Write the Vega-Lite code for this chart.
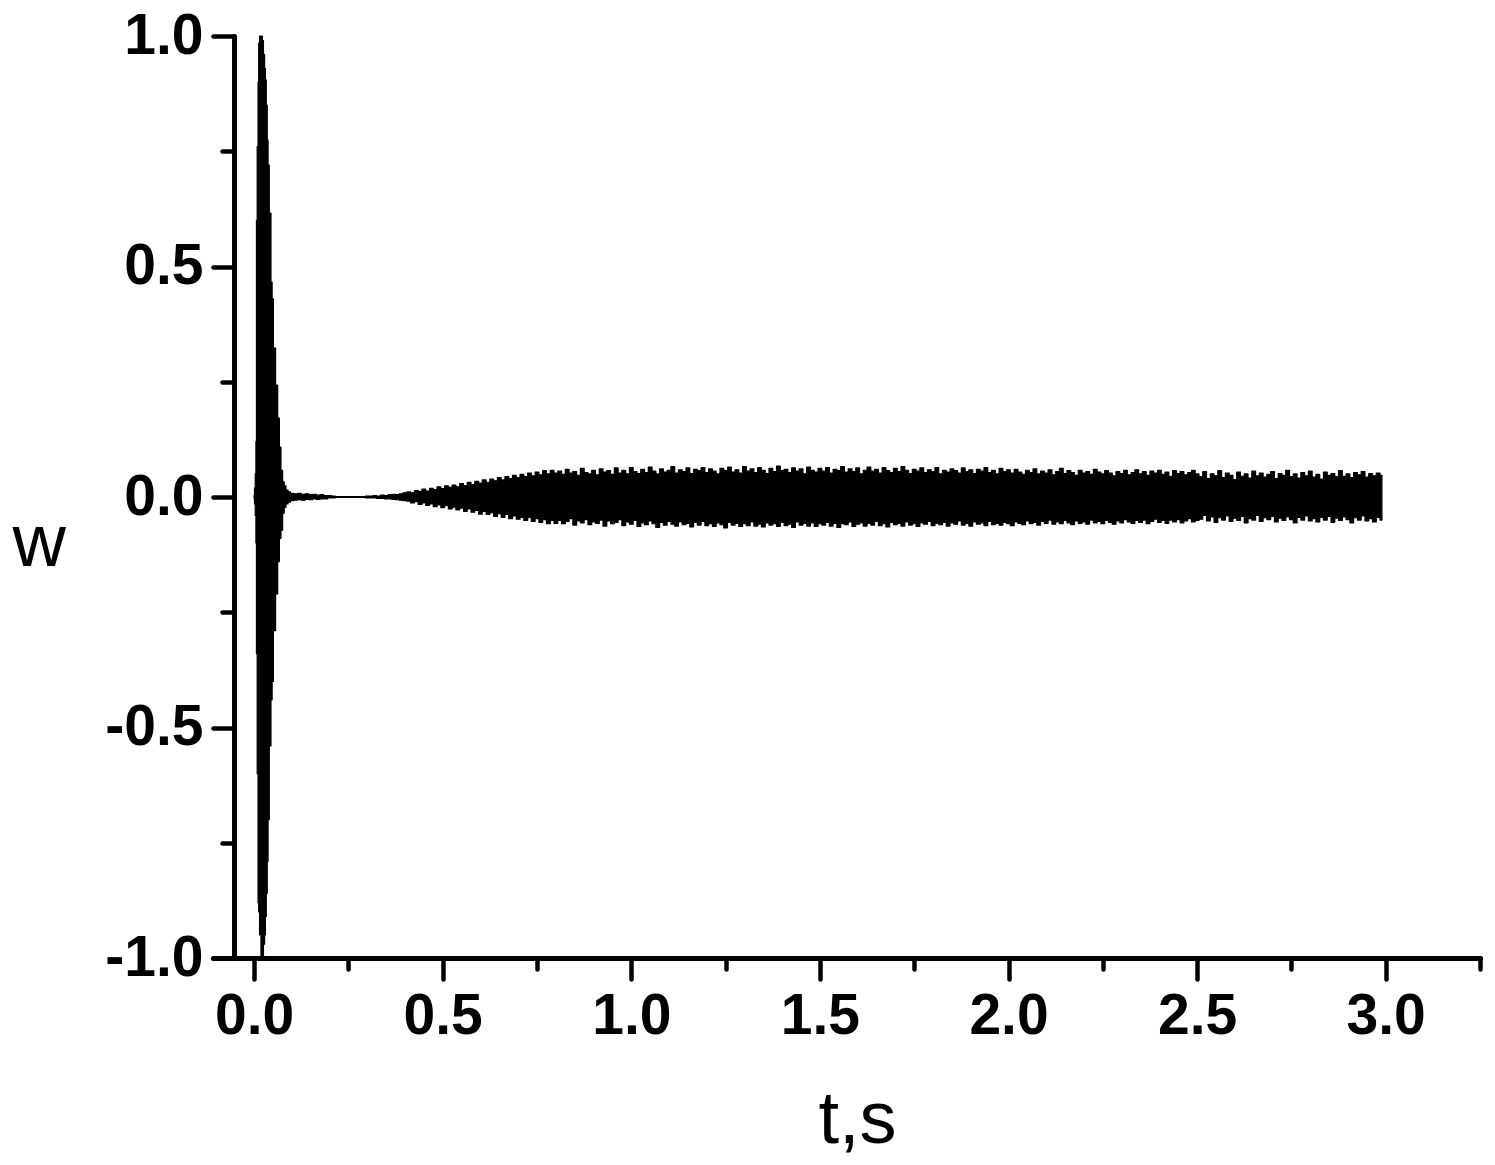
{
  "$schema": "https://vega.github.io/schema/vega-lite/v6.json",
  "width": 1267,
  "height": 922,
  "autosize": {"type": "none"},
  "padding": {"left": 213, "top": 36, "right": 15, "bottom": 207},
  "background": "white",
  "config": {
    "view": {"stroke": null},
    "axis": {
      "grid": false,
      "domainColor": "black",
      "tickColor": "black",
      "labelFont": "Liberation Sans",
      "labelFontWeight": "bold",
      "labelFontSize": 57,
      "labelColor": "black",
      "titleFont": "Liberation Sans",
      "titleFontWeight": "normal",
      "titleFontSize": 74,
      "titleColor": "black"
    }
  },
  "data": {
    "values": [
      {"t": 0.000, "hi": 0.004, "lo": -0.004},
      {"t": 0.002, "hi": 0.02, "lo": -0.015},
      {"t": 0.004, "hi": 0.05, "lo": -0.04},
      {"t": 0.0055, "hi": 0.12, "lo": -0.10},
      {"t": 0.0068, "hi": 0.60, "lo": -0.34},
      {"t": 0.0095, "hi": 0.76, "lo": -0.60},
      {"t": 0.0114, "hi": 0.90, "lo": -0.88},
      {"t": 0.013, "hi": 0.985, "lo": -0.90},
      {"t": 0.0159, "hi": 1.0, "lo": -0.95},
      {"t": 0.0205, "hi": 1.0, "lo": -1.0},
      {"t": 0.023, "hi": 0.99, "lo": -1.0},
      {"t": 0.0265, "hi": 0.96, "lo": -0.97},
      {"t": 0.029, "hi": 0.93, "lo": -0.95},
      {"t": 0.031, "hi": 0.905, "lo": -0.91},
      {"t": 0.0336, "hi": 0.85, "lo": -0.86},
      {"t": 0.036, "hi": 0.774, "lo": -0.79},
      {"t": 0.038, "hi": 0.72, "lo": -0.70},
      {"t": 0.0424, "hi": 0.616, "lo": -0.54},
      {"t": 0.047, "hi": 0.466, "lo": -0.44},
      {"t": 0.0485, "hi": 0.43, "lo": -0.40},
      {"t": 0.054, "hi": 0.323, "lo": -0.29},
      {"t": 0.060, "hi": 0.243, "lo": -0.21},
      {"t": 0.065, "hi": 0.171, "lo": -0.14},
      {"t": 0.069, "hi": 0.108, "lo": -0.09},
      {"t": 0.0734, "hi": 0.058, "lo": -0.072},
      {"t": 0.0777, "hi": 0.033, "lo": -0.035},
      {"t": 0.082, "hi": 0.024, "lo": -0.022},
      {"t": 0.087, "hi": 0.015, "lo": -0.015},
      {"t": 0.093, "hi": 0.011, "lo": -0.011},
      {"t": 0.100, "hi": 0.008, "lo": -0.008},
      {"t": 0.11, "hi": 0.007, "lo": -0.007},
      {"t": 0.12, "hi": 0.008, "lo": -0.006},
      {"t": 0.13, "hi": 0.006, "lo": -0.007},
      {"t": 0.14, "hi": 0.007, "lo": -0.005},
      {"t": 0.15, "hi": 0.005, "lo": -0.006},
      {"t": 0.16, "hi": 0.006, "lo": -0.004},
      {"t": 0.17, "hi": 0.004, "lo": -0.005},
      {"t": 0.18, "hi": 0.005, "lo": -0.004},
      {"t": 0.19, "hi": 0.003, "lo": -0.004},
      {"t": 0.20, "hi": 0.003, "lo": -0.002},
      {"t": 0.21, "hi": 0.002, "lo": -0.002},
      {"t": 0.22, "hi": 0.001, "lo": -0.001},
      {"t": 0.23, "hi": 0.001, "lo": -0.001},
      {"t": 0.24, "hi": 0.001, "lo": -0.001},
      {"t": 0.25, "hi": 0.001, "lo": -0.001},
      {"t": 0.26, "hi": 0.001, "lo": -0.001},
      {"t": 0.27, "hi": 0.001, "lo": -0.001},
      {"t": 0.28, "hi": 0.001, "lo": -0.001},
      {"t": 0.29, "hi": 0.001, "lo": -0.001},
      {"t": 0.30, "hi": 0.002, "lo": -0.002},
      {"t": 0.31, "hi": 0.002, "lo": -0.002},
      {"t": 0.32, "hi": 0.003, "lo": -0.002},
      {"t": 0.33, "hi": 0.002, "lo": -0.003},
      {"t": 0.34, "hi": 0.004, "lo": -0.003},
      {"t": 0.35, "hi": 0.003, "lo": -0.004},
      {"t": 0.36, "hi": 0.005, "lo": -0.004},
      {"t": 0.37, "hi": 0.006, "lo": -0.005},
      {"t": 0.38, "hi": 0.005, "lo": -0.006},
      {"t": 0.39, "hi": 0.007, "lo": -0.007},
      {"t": 0.40, "hi": 0.009, "lo": -0.008},
      {"t": 0.41, "hi": 0.011, "lo": -0.009},
      {"t": 0.42, "hi": 0.009, "lo": -0.013},
      {"t": 0.43, "hi": 0.014, "lo": -0.010},
      {"t": 0.44, "hi": 0.012, "lo": -0.016},
      {"t": 0.45, "hi": 0.017, "lo": -0.013},
      {"t": 0.46, "hi": 0.013, "lo": -0.018},
      {"t": 0.47, "hi": 0.019, "lo": -0.015},
      {"t": 0.48, "hi": 0.016, "lo": -0.021},
      {"t": 0.49, "hi": 0.022, "lo": -0.017},
      {"t": 0.50, "hi": 0.018, "lo": -0.023},
      {"t": 0.51, "hi": 0.024, "lo": -0.019},
      {"t": 0.52, "hi": 0.021, "lo": -0.026},
      {"t": 0.53, "hi": 0.026, "lo": -0.022},
      {"t": 0.54, "hi": 0.022, "lo": -0.028},
      {"t": 0.55, "hi": 0.029, "lo": -0.024},
      {"t": 0.56, "hi": 0.025, "lo": -0.031},
      {"t": 0.57, "hi": 0.032, "lo": -0.026},
      {"t": 0.58, "hi": 0.027, "lo": -0.033},
      {"t": 0.59, "hi": 0.034, "lo": -0.029},
      {"t": 0.60, "hi": 0.030, "lo": -0.037},
      {"t": 0.61, "hi": 0.037, "lo": -0.031},
      {"t": 0.62, "hi": 0.032, "lo": -0.038},
      {"t": 0.63, "hi": 0.039, "lo": -0.034},
      {"t": 0.64, "hi": 0.035, "lo": -0.042},
      {"t": 0.65, "hi": 0.042, "lo": -0.036},
      {"t": 0.66, "hi": 0.037, "lo": -0.044},
      {"t": 0.67, "hi": 0.044, "lo": -0.038},
      {"t": 0.68, "hi": 0.040, "lo": -0.047},
      {"t": 0.69, "hi": 0.047, "lo": -0.041},
      {"t": 0.70, "hi": 0.042, "lo": -0.048},
      {"t": 0.71, "hi": 0.049, "lo": -0.044},
      {"t": 0.72, "hi": 0.044, "lo": -0.051},
      {"t": 0.73, "hi": 0.052, "lo": -0.045},
      {"t": 0.74, "hi": 0.046, "lo": -0.053},
      {"t": 0.75, "hi": 0.054, "lo": -0.047},
      {"t": 0.76, "hi": 0.048, "lo": -0.055},
      {"t": 0.77, "hi": 0.057, "lo": -0.049},
      {"t": 0.78, "hi": 0.050, "lo": -0.058},
      {"t": 0.79, "hi": 0.058, "lo": -0.051},
      {"t": 0.80, "hi": 0.052, "lo": -0.057},
      {"t": 0.81, "hi": 0.056, "lo": -0.051},
      {"t": 0.82, "hi": 0.049, "lo": -0.058},
      {"t": 0.83, "hi": 0.060, "lo": -0.053},
      {"t": 0.84, "hi": 0.052, "lo": -0.047},
      {"t": 0.85, "hi": 0.055, "lo": -0.061},
      {"t": 0.86, "hi": 0.047, "lo": -0.052},
      {"t": 0.87, "hi": 0.062, "lo": -0.056},
      {"t": 0.88, "hi": 0.053, "lo": -0.049},
      {"t": 0.89, "hi": 0.050, "lo": -0.060},
      {"t": 0.90, "hi": 0.058, "lo": -0.054},
      {"t": 0.91, "hi": 0.048, "lo": -0.057},
      {"t": 0.92, "hi": 0.061, "lo": -0.050},
      {"t": 0.93, "hi": 0.054, "lo": -0.063},
      {"t": 0.94, "hi": 0.057, "lo": -0.052},
      {"t": 0.95, "hi": 0.049, "lo": -0.058},
      {"t": 0.96, "hi": 0.063, "lo": -0.055},
      {"t": 0.97, "hi": 0.052, "lo": -0.049},
      {"t": 0.98, "hi": 0.058, "lo": -0.062},
      {"t": 0.99, "hi": 0.050, "lo": -0.054},
      {"t": 1.00, "hi": 0.064, "lo": -0.059},
      {"t": 1.01, "hi": 0.055, "lo": -0.051},
      {"t": 1.02, "hi": 0.051, "lo": -0.064},
      {"t": 1.03, "hi": 0.060, "lo": -0.056},
      {"t": 1.04, "hi": 0.053, "lo": -0.060},
      {"t": 1.05, "hi": 0.065, "lo": -0.052},
      {"t": 1.06, "hi": 0.056, "lo": -0.058},
      {"t": 1.07, "hi": 0.050, "lo": -0.066},
      {"t": 1.08, "hi": 0.061, "lo": -0.055},
      {"t": 1.09, "hi": 0.054, "lo": -0.061},
      {"t": 1.10, "hi": 0.058, "lo": -0.053},
      {"t": 1.11, "hi": 0.066, "lo": -0.059},
      {"t": 1.12, "hi": 0.052, "lo": -0.063},
      {"t": 1.13, "hi": 0.059, "lo": -0.054},
      {"t": 1.14, "hi": 0.055, "lo": -0.060},
      {"t": 1.15, "hi": 0.063, "lo": -0.057},
      {"t": 1.16, "hi": 0.051, "lo": -0.065},
      {"t": 1.17, "hi": 0.060, "lo": -0.055},
      {"t": 1.18, "hi": 0.057, "lo": -0.061},
      {"t": 1.19, "hi": 0.064, "lo": -0.053},
      {"t": 1.20, "hi": 0.053, "lo": -0.062},
      {"t": 1.21, "hi": 0.061, "lo": -0.058},
      {"t": 1.22, "hi": 0.056, "lo": -0.064},
      {"t": 1.23, "hi": 0.050, "lo": -0.056},
      {"t": 1.24, "hi": 0.062, "lo": -0.060},
      {"t": 1.25, "hi": 0.057, "lo": -0.067},
      {"t": 1.26, "hi": 0.065, "lo": -0.055},
      {"t": 1.27, "hi": 0.054, "lo": -0.061},
      {"t": 1.28, "hi": 0.059, "lo": -0.057},
      {"t": 1.29, "hi": 0.052, "lo": -0.064},
      {"t": 1.30, "hi": 0.066, "lo": -0.058},
      {"t": 1.31, "hi": 0.056, "lo": -0.062},
      {"t": 1.32, "hi": 0.061, "lo": -0.054},
      {"t": 1.33, "hi": 0.053, "lo": -0.063},
      {"t": 1.34, "hi": 0.064, "lo": -0.059},
      {"t": 1.35, "hi": 0.058, "lo": -0.065},
      {"t": 1.36, "hi": 0.051, "lo": -0.056},
      {"t": 1.37, "hi": 0.062, "lo": -0.061},
      {"t": 1.38, "hi": 0.055, "lo": -0.058},
      {"t": 1.39, "hi": 0.067, "lo": -0.064},
      {"t": 1.40, "hi": 0.057, "lo": -0.055},
      {"t": 1.41, "hi": 0.060, "lo": -0.062},
      {"t": 1.42, "hi": 0.053, "lo": -0.059},
      {"t": 1.43, "hi": 0.063, "lo": -0.066},
      {"t": 1.44, "hi": 0.056, "lo": -0.054},
      {"t": 1.45, "hi": 0.061, "lo": -0.061},
      {"t": 1.46, "hi": 0.050, "lo": -0.057},
      {"t": 1.47, "hi": 0.065, "lo": -0.063},
      {"t": 1.48, "hi": 0.058, "lo": -0.056},
      {"t": 1.49, "hi": 0.054, "lo": -0.064},
      {"t": 1.50, "hi": 0.062, "lo": -0.058},
      {"t": 1.51, "hi": 0.056, "lo": -0.061},
      {"t": 1.52, "hi": 0.064, "lo": -0.055},
      {"t": 1.53, "hi": 0.052, "lo": -0.063},
      {"t": 1.54, "hi": 0.060, "lo": -0.057},
      {"t": 1.55, "hi": 0.057, "lo": -0.066},
      {"t": 1.56, "hi": 0.066, "lo": -0.058},
      {"t": 1.57, "hi": 0.054, "lo": -0.060},
      {"t": 1.58, "hi": 0.061, "lo": -0.054},
      {"t": 1.59, "hi": 0.055, "lo": -0.064},
      {"t": 1.60, "hi": 0.063, "lo": -0.059},
      {"t": 1.61, "hi": 0.050, "lo": -0.056},
      {"t": 1.62, "hi": 0.058, "lo": -0.063},
      {"t": 1.63, "hi": 0.065, "lo": -0.057},
      {"t": 1.64, "hi": 0.056, "lo": -0.061},
      {"t": 1.65, "hi": 0.060, "lo": -0.053},
      {"t": 1.66, "hi": 0.052, "lo": -0.062},
      {"t": 1.67, "hi": 0.064, "lo": -0.058},
      {"t": 1.68, "hi": 0.057, "lo": -0.065},
      {"t": 1.69, "hi": 0.053, "lo": -0.055},
      {"t": 1.70, "hi": 0.062, "lo": -0.060},
      {"t": 1.71, "hi": 0.055, "lo": -0.057},
      {"t": 1.72, "hi": 0.066, "lo": -0.063},
      {"t": 1.73, "hi": 0.058, "lo": -0.054},
      {"t": 1.74, "hi": 0.051, "lo": -0.061},
      {"t": 1.75, "hi": 0.060, "lo": -0.058},
      {"t": 1.76, "hi": 0.056, "lo": -0.064},
      {"t": 1.77, "hi": 0.063, "lo": -0.056},
      {"t": 1.78, "hi": 0.053, "lo": -0.059},
      {"t": 1.79, "hi": 0.059, "lo": -0.053},
      {"t": 1.80, "hi": 0.055, "lo": -0.062},
      {"t": 1.81, "hi": 0.064, "lo": -0.057},
      {"t": 1.82, "hi": 0.050, "lo": -0.060},
      {"t": 1.83, "hi": 0.058, "lo": -0.055},
      {"t": 1.84, "hi": 0.054, "lo": -0.063},
      {"t": 1.85, "hi": 0.061, "lo": -0.056},
      {"t": 1.86, "hi": 0.057, "lo": -0.059},
      {"t": 1.87, "hi": 0.052, "lo": -0.052},
      {"t": 1.88, "hi": 0.063, "lo": -0.061},
      {"t": 1.89, "hi": 0.055, "lo": -0.057},
      {"t": 1.90, "hi": 0.059, "lo": -0.063},
      {"t": 1.91, "hi": 0.051, "lo": -0.054},
      {"t": 1.92, "hi": 0.060, "lo": -0.059},
      {"t": 1.93, "hi": 0.056, "lo": -0.056},
      {"t": 1.94, "hi": 0.064, "lo": -0.062},
      {"t": 1.95, "hi": 0.053, "lo": -0.053},
      {"t": 1.96, "hi": 0.058, "lo": -0.060},
      {"t": 1.97, "hi": 0.050, "lo": -0.057},
      {"t": 1.98, "hi": 0.062, "lo": -0.061},
      {"t": 1.99, "hi": 0.055, "lo": -0.055},
      {"t": 2.00, "hi": 0.059, "lo": -0.058},
      {"t": 2.01, "hi": 0.052, "lo": -0.062},
      {"t": 2.02, "hi": 0.060, "lo": -0.054},
      {"t": 2.03, "hi": 0.054, "lo": -0.057},
      {"t": 2.04, "hi": 0.049, "lo": -0.060},
      {"t": 2.05, "hi": 0.058, "lo": -0.052},
      {"t": 2.06, "hi": 0.053, "lo": -0.058},
      {"t": 2.07, "hi": 0.061, "lo": -0.055},
      {"t": 2.08, "hi": 0.050, "lo": -0.061},
      {"t": 2.09, "hi": 0.056, "lo": -0.053},
      {"t": 2.10, "hi": 0.052, "lo": -0.057},
      {"t": 2.11, "hi": 0.059, "lo": -0.050},
      {"t": 2.12, "hi": 0.048, "lo": -0.059},
      {"t": 2.13, "hi": 0.055, "lo": -0.054},
      {"t": 2.14, "hi": 0.062, "lo": -0.058},
      {"t": 2.15, "hi": 0.051, "lo": -0.051},
      {"t": 2.16, "hi": 0.057, "lo": -0.056},
      {"t": 2.17, "hi": 0.053, "lo": -0.060},
      {"t": 2.18, "hi": 0.047, "lo": -0.052},
      {"t": 2.19, "hi": 0.058, "lo": -0.057},
      {"t": 2.20, "hi": 0.052, "lo": -0.054},
      {"t": 2.21, "hi": 0.055, "lo": -0.059},
      {"t": 2.22, "hi": 0.049, "lo": -0.050},
      {"t": 2.23, "hi": 0.060, "lo": -0.056},
      {"t": 2.24, "hi": 0.054, "lo": -0.053},
      {"t": 2.25, "hi": 0.050, "lo": -0.058},
      {"t": 2.26, "hi": 0.057, "lo": -0.051},
      {"t": 2.27, "hi": 0.052, "lo": -0.055},
      {"t": 2.28, "hi": 0.046, "lo": -0.059},
      {"t": 2.29, "hi": 0.055, "lo": -0.052},
      {"t": 2.30, "hi": 0.051, "lo": -0.056},
      {"t": 2.31, "hi": 0.058, "lo": -0.049},
      {"t": 2.32, "hi": 0.048, "lo": -0.054},
      {"t": 2.33, "hi": 0.053, "lo": -0.057},
      {"t": 2.34, "hi": 0.059, "lo": -0.051},
      {"t": 2.35, "hi": 0.050, "lo": -0.055},
      {"t": 2.36, "hi": 0.055, "lo": -0.050},
      {"t": 2.37, "hi": 0.047, "lo": -0.058},
      {"t": 2.38, "hi": 0.056, "lo": -0.053},
      {"t": 2.39, "hi": 0.052, "lo": -0.048},
      {"t": 2.40, "hi": 0.058, "lo": -0.055},
      {"t": 2.41, "hi": 0.049, "lo": -0.051},
      {"t": 2.42, "hi": 0.054, "lo": -0.057},
      {"t": 2.43, "hi": 0.045, "lo": -0.050},
      {"t": 2.44, "hi": 0.057, "lo": -0.054},
      {"t": 2.45, "hi": 0.051, "lo": -0.049},
      {"t": 2.46, "hi": 0.055, "lo": -0.056},
      {"t": 2.47, "hi": 0.048, "lo": -0.052},
      {"t": 2.48, "hi": 0.053, "lo": -0.047},
      {"t": 2.49, "hi": 0.058, "lo": -0.054},
      {"t": 2.50, "hi": 0.050, "lo": -0.051},
      {"t": 2.51, "hi": 0.044, "lo": -0.048},
      {"t": 2.52, "hi": 0.055, "lo": -0.040},
      {"t": 2.53, "hi": 0.040, "lo": -0.052},
      {"t": 2.54, "hi": 0.050, "lo": -0.043},
      {"t": 2.55, "hi": 0.046, "lo": -0.055},
      {"t": 2.56, "hi": 0.057, "lo": -0.045},
      {"t": 2.57, "hi": 0.042, "lo": -0.050},
      {"t": 2.58, "hi": 0.052, "lo": -0.041},
      {"t": 2.59, "hi": 0.047, "lo": -0.053},
      {"t": 2.60, "hi": 0.038, "lo": -0.046},
      {"t": 2.61, "hi": 0.054, "lo": -0.051},
      {"t": 2.62, "hi": 0.045, "lo": -0.042},
      {"t": 2.63, "hi": 0.050, "lo": -0.056},
      {"t": 2.64, "hi": 0.041, "lo": -0.047},
      {"t": 2.65, "hi": 0.056, "lo": -0.050},
      {"t": 2.66, "hi": 0.046, "lo": -0.040},
      {"t": 2.67, "hi": 0.052, "lo": -0.053},
      {"t": 2.68, "hi": 0.043, "lo": -0.045},
      {"t": 2.69, "hi": 0.049, "lo": -0.049},
      {"t": 2.70, "hi": 0.055, "lo": -0.042},
      {"t": 2.71, "hi": 0.040, "lo": -0.054},
      {"t": 2.72, "hi": 0.051, "lo": -0.046},
      {"t": 2.73, "hi": 0.047, "lo": -0.051},
      {"t": 2.74, "hi": 0.058, "lo": -0.043},
      {"t": 2.75, "hi": 0.044, "lo": -0.049},
      {"t": 2.76, "hi": 0.050, "lo": -0.056},
      {"t": 2.77, "hi": 0.041, "lo": -0.044},
      {"t": 2.78, "hi": 0.053, "lo": -0.050},
      {"t": 2.79, "hi": 0.046, "lo": -0.041},
      {"t": 2.80, "hi": 0.056, "lo": -0.052},
      {"t": 2.81, "hi": 0.043, "lo": -0.047},
      {"t": 2.82, "hi": 0.049, "lo": -0.054},
      {"t": 2.83, "hi": 0.039, "lo": -0.044},
      {"t": 2.84, "hi": 0.054, "lo": -0.050},
      {"t": 2.85, "hi": 0.047, "lo": -0.042},
      {"t": 2.86, "hi": 0.051, "lo": -0.055},
      {"t": 2.87, "hi": 0.044, "lo": -0.046},
      {"t": 2.88, "hi": 0.057, "lo": -0.051},
      {"t": 2.89, "hi": 0.045, "lo": -0.043},
      {"t": 2.90, "hi": 0.050, "lo": -0.049},
      {"t": 2.91, "hi": 0.042, "lo": -0.056},
      {"t": 2.92, "hi": 0.053, "lo": -0.045},
      {"t": 2.93, "hi": 0.048, "lo": -0.050},
      {"t": 2.94, "hi": 0.055, "lo": -0.041},
      {"t": 2.95, "hi": 0.043, "lo": -0.052},
      {"t": 2.96, "hi": 0.051, "lo": -0.047},
      {"t": 2.97, "hi": 0.046, "lo": -0.054},
      {"t": 2.98, "hi": 0.052, "lo": -0.044},
      {"t": 2.99, "hi": 0.047, "lo": -0.050}
    ]
  },
  "mark": {
    "type": "area",
    "fill": "black",
    "stroke": "black",
    "strokeWidth": 1.2,
    "strokeJoin": "round",
    "interpolate": "step"
  },
  "encoding": {
    "x": {
      "field": "t",
      "type": "quantitative",
      "scale": {"domain": [-0.109, 3.25], "nice": false, "zero": false},
      "axis": {
        "title": "t,s",
        "values": [0, 0.25, 0.5, 0.75, 1, 1.25, 1.5, 1.75, 2, 2.25, 2.5, 2.75, 3, 3.25],
        "labelExpr": "datum.value * 2 === round(datum.value * 2) ? format(datum.value, '.1f') : ''",
        "tickSize": {"condition": {"test": "datum.value * 2 === round(datum.value * 2)", "value": 21}, "value": 11},
        "tickWidth": 4.5,
        "tickCap": "round",
        "domainWidth": 5,
        "domainCap": "round",
        "labelPadding": 9,
        "labelFlush": false,
        "labelOverlap": false,
        "titleX": 644,
        "titleY": 184,
        "titleAlign": "center",
        "titleBaseline": "alphabetic"
      }
    },
    "y": {
      "field": "lo",
      "type": "quantitative",
      "scale": {"domain": [-1, 1], "nice": false, "zero": false},
      "axis": {
        "title": "w",
        "offset": -21,
        "values": [-1, -0.75, -0.5, -0.25, 0, 0.25, 0.5, 0.75, 1],
        "labelExpr": "datum.value * 2 === round(datum.value * 2) ? (datum.value < 0 ? '-' : '') + format(abs(datum.value), '.1f') : ''",
        "tickSize": {"condition": {"test": "datum.value * 2 === round(datum.value * 2)", "value": 21}, "value": 12},
        "tickWidth": 4.5,
        "tickCap": "round",
        "domainWidth": 5,
        "domainCap": "round",
        "labelPadding": 10,
        "labelFlush": false,
        "labelOverlap": false,
        "titleAngle": 0,
        "titleX": -222,
        "titleY": 529,
        "titleAlign": "left",
        "titleBaseline": "alphabetic"
      }
    },
    "y2": {"field": "hi"}
  }
}
